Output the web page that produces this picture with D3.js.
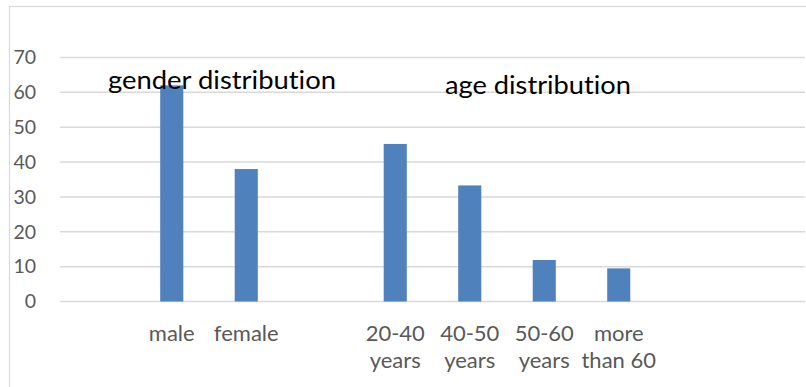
<!DOCTYPE html>
<html>
<head>
<meta charset="utf-8">
<script src="https://cdn.jsdelivr.net/npm/d3@7"></script>
<style>
  html, body { margin: 0; padding: 0; background: #fff; }
  svg { display: block; }
  text { font-variant-ligatures: none; font-feature-settings: "liga" 0; }
</style>
</head>
<body>
<svg id="chart" width="806" height="387"></svg>
<script>
// Survey respondents: gender and age distribution (percent)
const categories = ["", "male", "female", "", "20-40 years", "40-50 years", "50-60 years", "more than 60", "", ""];
const values = [null, 62, 38, null, 45.2, 33.3, 11.9, 9.5, null, null];
const yTicks = [0, 10, 20, 30, 40, 50, 60, 70];
const groupLabels = ["gender distribution", "age distribution"];

const W = 806, H = 387;
const margin = { left: 60, right: 1, top: 57.5, bottom: H - 301.5 };
const FONT = "Lato, 'Liberation Sans', sans-serif";

const svg = d3.select("#chart");

// chart frame
svg.append("rect")
  .attr("x", 9.5).attr("y", 6.5)
  .attr("width", W).attr("height", H)
  .attr("fill", "#fff")
  .attr("stroke", "#d9d9d9").attr("stroke-width", 1.2);

const x = d3.scaleBand()
  .domain(categories.map((d, i) => i))
  .range([margin.left, W - margin.right])
  .padding(0);

const y = d3.scaleLinear()
  .domain([0, 70])
  .range([H - margin.bottom, margin.top]);

// horizontal gridlines
svg.append("g")
  .selectAll("line")
  .data(yTicks)
  .join("line")
  .attr("x1", margin.left).attr("x2", W - margin.right)
  .attr("y1", d => y(d)).attr("y2", d => y(d))
  .attr("stroke", "#d9d9d9").attr("stroke-width", 1.5);

// y axis labels
const yAxis = d3.axisLeft(y).tickValues(yTicks).tickSize(0).tickPadding(0);
const gy = svg.append("g")
  .attr("transform", `translate(36,0)`)
  .call(yAxis);
gy.select(".domain").remove();
gy.selectAll("text")
  .attr("fill", "#595959")
  .style("font-family", FONT)
  .style("font-size", "19.5px");

// bars
const barW = x.bandwidth() * 0.31;
svg.append("g")
  .selectAll("rect")
  .data(values.map((v, i) => ({ v, i })).filter(d => d.v != null))
  .join("rect")
  .attr("x", d => x(d.i) + x.bandwidth() / 2 - barW / 2)
  .attr("width", barW)
  .attr("y", d => y(d.v))
  .attr("height", d => y(0) - y(d.v))
  .attr("fill", "#4f81bd");

// category labels, broken after the first word
const xAxis = d3.axisBottom(x).tickSize(0).tickFormat(() => "");
const gx = svg.append("g")
  .attr("transform", `translate(0,${y(0)})`)
  .call(xAxis);
gx.select(".domain").remove();
gx.selectAll(".tick").each(function(i) {
  const label = categories[i];
  if (!label) return;
  const sp = label.indexOf(" ");
  const lines = sp < 0 ? [label] : [label.slice(0, sp), label.slice(sp + 1)];
  const t = d3.select(this).select("text")
    .attr("y", 0).attr("dy", null)
    .attr("fill", "#595959")
    .style("font-family", FONT)
    .style("font-size", "22px");
  t.selectAll("tspan")
    .data(lines)
    .join("tspan")
    .attr("x", 0)
    .attr("y", (d, k) => 39.5 + k * 26.5)
    .text(d => d);
});

// group annotations
svg.append("text")
  .attr("x", 108).attr("y", 88.5)
  .attr("textLength", 228).attr("lengthAdjust", "spacingAndGlyphs")
  .style("font-family", FONT)
  .style("font-size", "25px")
  .attr("fill", "#000")
  .text(groupLabels[0]);

svg.append("text")
  .attr("x", 445).attr("y", 93.5)
  .attr("textLength", 186).attr("lengthAdjust", "spacingAndGlyphs")
  .style("font-family", FONT)
  .style("font-size", "25px")
  .attr("fill", "#000")
  .text(groupLabels[1]);
</script>
</body>
</html>
